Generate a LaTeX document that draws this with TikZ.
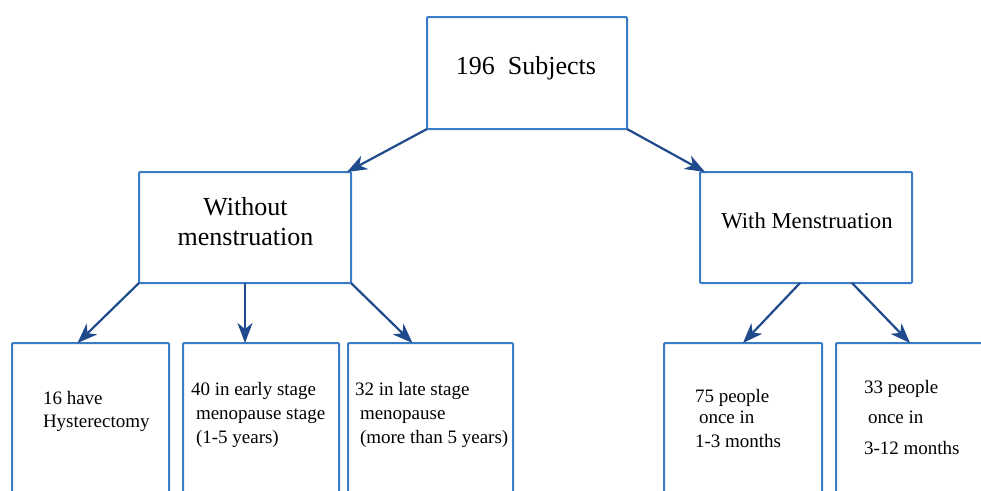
\documentclass[tikz,border=0pt]{standalone}
\usepackage{fontspec}
\setmainfont{Liberation Serif}
\usetikzlibrary{arrows.meta}
\definecolor{boxblue}{HTML}{3A7CC6}
\definecolor{arrblue}{HTML}{1F4A8C}
\tikzset{
  box/.style={draw=boxblue, line width=2pt, rectangle, rounded corners=1pt, inner sep=0pt, outer sep=0pt, fill=white},
  conn/.style={draw=arrblue, line width=2.2pt, -{Stealth[length=20pt,width=15pt,inset=6pt]}},
  txt/.style={inner sep=0pt, outer sep=0pt, anchor=base west, font=\fontsize{19}{22}\selectfont},
}
\begin{document}
\begin{tikzpicture}[x=1pt,y=-1pt]
\useasboundingbox (0,0) rectangle (981,490);
\clip (0,0) rectangle (981,490);
\fill[white] (0,0) rectangle (981,490);
% boxes
\node[box, minimum width=200pt, minimum height=112pt] (top) at (527,73) {};
\node[box, minimum width=212pt, minimum height=111pt] (lm) at (245,227.5) {};
\node[box, minimum width=212pt, minimum height=111pt] (rm) at (806,227.5) {};
\node[box, minimum width=157pt, minimum height=157pt] (b1) at (90.5,421.5) {};
\node[box, minimum width=156pt, minimum height=157pt] (b2) at (261,421.5) {};
\node[box, minimum width=165pt, minimum height=157pt] (b3) at (430.5,421.5) {};
\node[box, minimum width=158pt, minimum height=157pt] (b4) at (743,421.5) {};
\node[box, minimum width=154pt, minimum height=157pt] (b5) at (913,421.5) {};
% texts
\node[inner sep=0pt, anchor=base, font=\fontsize{26}{30}\selectfont] (t0) at (526,74) {196\ \ Subjects};
\node[inner sep=0pt, anchor=base, font=\fontsize{26}{30}\selectfont] (t1a) at (245.5,215) {Without};
\node[inner sep=0pt, anchor=base, font=\fontsize{26}{30}\selectfont] (t1b) at (245.5,245) {menstruation};
\node[inner sep=0pt, anchor=base, font=\fontsize{22.7}{26}\selectfont] (t2) at (807,228) {With Menstruation};
\node[txt] (a1) at (43,404) {16 have};
\node[txt] (a2) at (43,427) {Hysterectomy};
\node[txt] (c1) at (191,395) {40 in early stage};
\node[txt] (c2) at (196,419) {menopause stage};
\node[txt] (c3) at (196,443) {(1-5 years)};
\node[txt] (d1) at (355,395) {32 in late stage};
\node[txt] (d2) at (360,419) {menopause};
\node[txt] (d3) at (360,443) {(more than 5 years)};
\node[txt] (e1) at (695,402) {75 people};
\node[txt] (e2) at (699,423) {once in};
\node[txt] (e3) at (695,447) {1-3 months};
\node[txt] (f1) at (864,393) {33 people};
\node[txt] (f2) at (868,423) {once in};
\node[txt] (f3) at (864,454) {3-12 months};
% connectors
\draw[conn] (top.south west) -- ([xshift=-4pt]lm.north east);
\draw[conn] (top.south east) -- ([xshift=5pt]rm.north west);
\draw[conn] (lm.south west) -- ([xshift=-13pt]b1.north);
\draw[conn] (lm.south) -- (lm.south |- b2.north);
\draw[conn] (lm.south east) -- ([xshift=-18pt]b3.north);
\draw[conn] ([xshift=-6pt]rm.south) -- (b4.north);
\draw[conn] ([xshift=46pt]rm.south) -- ([xshift=-3pt]b5.north);
\end{tikzpicture}
\end{document}
